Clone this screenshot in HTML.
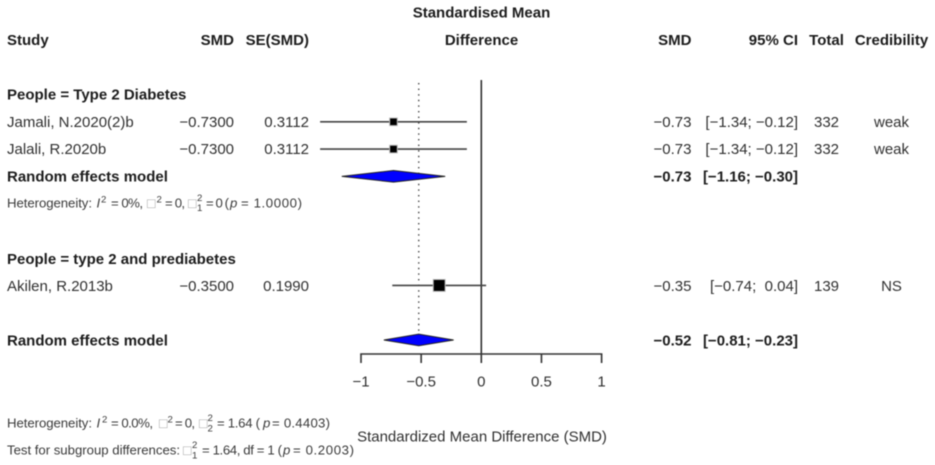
<!DOCTYPE html>
<html lang="en">
<head>
<meta charset="utf-8">
<title>Forest plot: Standardised Mean Difference</title>
<style>
html,body{margin:0;padding:0;background:#fff;}
#chart{display:block;width:935px;height:465px;filter:blur(0.4px);}
text{font-family:"Liberation Sans",sans-serif;font-size:15px;fill:#303030;}
.b{font-weight:bold;fill:#1c1c1c;}
.r{text-anchor:end;}
.c{text-anchor:middle;}
.s{font-size:13.2px;fill:#3a3a3a;}
.t{font-size:9.6px;fill:#3a3a3a;}
.g{font-size:14px;fill:#a8a8a8;}
.tick{font-size:15px;text-anchor:middle;}
</style>
</head>
<body>
<svg id="chart" xmlns="http://www.w3.org/2000/svg" width="935" height="465" viewBox="0 0 935 465">
  <g>
    <text class="b c" x="481.5" y="17.5">Standardised Mean</text>
    <text class="b c" x="481.5" y="45">Difference</text>
    <text class="b" x="7" y="45">Study</text>
    <text class="b r" x="234" y="45">SMD</text>
    <text class="b r" x="309" y="45">SE(SMD)</text>
    <text class="b r" x="691.5" y="45">SMD</text>
    <text class="b r" x="798" y="45">95% CI</text>
    <text class="b c" x="826.5" y="45">Total</text>
    <text class="b c" x="891.5" y="45">Credibility</text>
  </g>

  <g>
    <text class="b" x="7" y="99.5">People = Type 2 Diabetes</text>

    <text x="7" y="127">Jamali, N.2020(2)b</text>
    <text class="r" x="234" y="127">−0.7300</text>
    <text class="r" x="309" y="127">0.3112</text>
    <text class="r" x="691.5" y="127">−0.73</text>
    <text class="r" x="798" y="127">[−1.34; −0.12]</text>
    <text class="c" x="826.5" y="127">332</text>
    <text class="c" x="891.5" y="127">weak</text>

    <text x="7" y="154">Jalali, R.2020b</text>
    <text class="r" x="234" y="154">−0.7300</text>
    <text class="r" x="309" y="154">0.3112</text>
    <text class="r" x="691.5" y="154">−0.73</text>
    <text class="r" x="798" y="154">[−1.34; −0.12]</text>
    <text class="c" x="826.5" y="154">332</text>
    <text class="c" x="891.5" y="154">weak</text>

    <text class="b" x="7" y="181.5">Random effects model</text>
    <text class="b r" x="691.5" y="181.5">−0.73</text>
    <text class="b r" x="798" y="181.5">[−1.16; −0.30]</text>

    <g>
      <text class="s" x="7" y="207.5" textLength="85">Heterogeneity:</text>
      <text class="s" x="96.5" y="207.5" font-style="italic">I</text>
      <text class="t" x="101" y="202.5">2</text>
      <text class="s" x="111" y="207.5" textLength="32">= 0%,</text>
      <text class="g" x="147" y="208">□</text>
      <text class="t" x="156.5" y="202.5">2</text>
      <text class="s" x="165" y="207.5" textLength="20">= 0,</text>
      <text class="g" x="188" y="208">□</text>
      <text class="t" x="197" y="201">2</text>
      <text class="t" x="197" y="211">1</text>
      <text class="s" x="206" y="207.5" textLength="23">= 0 (</text>
      <text class="s" x="230" y="207.5" font-style="italic">p</text>
      <text class="s" x="241" y="207.5" textLength="61">= 1.0000)</text>
    </g>
  </g>

  <g>
    <text class="b" x="7" y="264">People = type 2 and prediabetes</text>

    <text x="7" y="291">Akilen, R.2013b</text>
    <text class="r" x="234" y="291">−0.3500</text>
    <text class="r" x="309" y="291">0.1990</text>
    <text class="r" x="691.5" y="291">−0.35</text>
    <text class="r" x="798" y="291">[−0.74;&#160; 0.04]</text>
    <text class="c" x="826.5" y="291">139</text>
    <text class="c" x="891.5" y="291">NS</text>
  </g>

  <g>
    <text class="b" x="7" y="345.5">Random effects model</text>
    <text class="b r" x="691.5" y="345.5">−0.52</text>
    <text class="b r" x="798" y="345.5">[−0.81; −0.23]</text>

    <g>
      <text class="s" x="7" y="427.5" textLength="85">Heterogeneity:</text>
      <text class="s" x="96.5" y="427.5" font-style="italic">I</text>
      <text class="t" x="102" y="422.5">2</text>
      <text class="s" x="111" y="427.5" textLength="42">= 0.0%,</text>
      <text class="g" x="159" y="428">□</text>
      <text class="t" x="167.5" y="422.5">2</text>
      <text class="s" x="175" y="427.5" textLength="20">= 0,</text>
      <text class="g" x="199" y="428">□</text>
      <text class="t" x="207.5" y="421">2</text>
      <text class="t" x="207.5" y="431.5">2</text>
      <text class="s" x="217" y="427.5" textLength="43">= 1.64 (</text>
      <text class="s" x="263" y="427.5" font-style="italic">p</text>
      <text class="s" x="272" y="427.5" textLength="58">= 0.4403)</text>
    </g>
    <g>
      <text class="s" x="7" y="454.5" textLength="173">Test for subgroup differences:</text>
      <text class="g" x="183" y="455">□</text>
      <text class="t" x="192" y="448">2</text>
      <text class="t" x="192" y="458.5">1</text>
      <text class="s" x="202" y="454.5" textLength="80">= 1.64, df = 1 (</text>
      <text class="s" x="283" y="454.5" font-style="italic">p</text>
      <text class="s" x="293" y="454.5" textLength="61">= 0.2003)</text>
    </g>
  </g>

  <text class="c" x="482" y="441.5">Standardized Mean Difference (SMD)</text>

  <g id="plot"></g>
</svg>
<script>
// Forest plot data
const studyNames = ["Jamali, N.2020(2)b", "Jalali, R.2020b", "Akilen, R.2013b"];
const studySmd = [-0.73, -0.73, -0.35];
const studyCiLow = [-1.34, -1.34, -0.74];
const studyCiHigh = [-0.12, -0.12, 0.04];
const studySe = [0.3112, 0.3112, 0.1990];
const studyRows = [3, 4, 9];
const pooledNames = ["subgroup-1", "overall"];
const pooledSmd = [-0.73, -0.52];
const pooledCiLow = [-1.16, -0.81];
const pooledCiHigh = [-0.30, -0.23];
const pooledRows = [5, 11];
const overallEffect = -0.52;
const tickValues = [-1, -0.5, 0, 0.5, 1];
const tickLabels = ["−1", "−0.5", "0", "0.5", "1"];

const NS = "http://www.w3.org/2000/svg";
const plot = document.getElementById("plot");
const INK = "#333";

function xScale(v) { return 481.3 + v * 120.3; }
function rowY(r) { return 40 + r * 27.27; }
function squareSize(se) { return 2.37 / se; }

function make(tag, attrs) {
  const el = document.createElementNS(NS, tag);
  for (const k in attrs) el.setAttribute(k, attrs[k]);
  plot.appendChild(el);
  return el;
}

// Dotted line at the overall effect
const refLine = make("line", { x1: xScale(overallEffect), x2: xScale(overallEffect), y1: 83, y2: 331, stroke: "#444", "stroke-width": 1.4, "stroke-dasharray": "1.4 4.2" });



// Solid line of no effect
const zeroLine = make("line", { x1: xScale(0), x2: xScale(0), y1: 80, y2: 354, stroke: INK, "stroke-width": 1.6 });



// Study confidence intervals and squares
studySmd.forEach(function (v, i) {
  const y = rowY(studyRows[i]);
  const key = studyNames[i].split(",")[0].toLowerCase();
  const ci = make("line", { x1: xScale(studyCiLow[i]), x2: xScale(studyCiHigh[i]), y1: y, y2: y, stroke: "#444", "stroke-width": 1.6 });
  
  
  const size = squareSize(studySe[i]);
  const sq = make("rect", { x: xScale(v) - size / 2, y: y - size / 2, width: size, height: size, fill: "#000", stroke: "#bbb", "stroke-width": 1 });
  
  
});

// Pooled-effect diamonds
pooledSmd.forEach(function (v, i) {
  const y = rowY(pooledRows[i]);
  const pts = [
    [xScale(pooledCiLow[i]), y],
    [xScale(v), y - 5.8],
    [xScale(pooledCiHigh[i]), y],
    [xScale(v), y + 5.8]
  ].map(function (p) { return p.join(","); }).join(" ");
  const d = make("polygon", { points: pts, fill: "#0000ff", stroke: "#222", "stroke-width": 1 });
  
  
});

// X axis
const axisY = 354;
const axisLine = make("line", { x1: xScale(tickValues[0]), x2: xScale(tickValues[tickValues.length - 1]), y1: axisY, y2: axisY, stroke: INK, "stroke-width": 1.6, "stroke-linecap": "square" });



tickValues.forEach(function (v, i) {
  const t = make("line", { x1: xScale(v), x2: xScale(v), y1: axisY, y2: axisY + 9, stroke: INK, "stroke-width": 1.6 });
  
  
  const label = make("text", { x: xScale(v), y: 386.7, class: "tick" });
  label.textContent = tickLabels[i];
  
  
});
</script>
</body>
</html>
